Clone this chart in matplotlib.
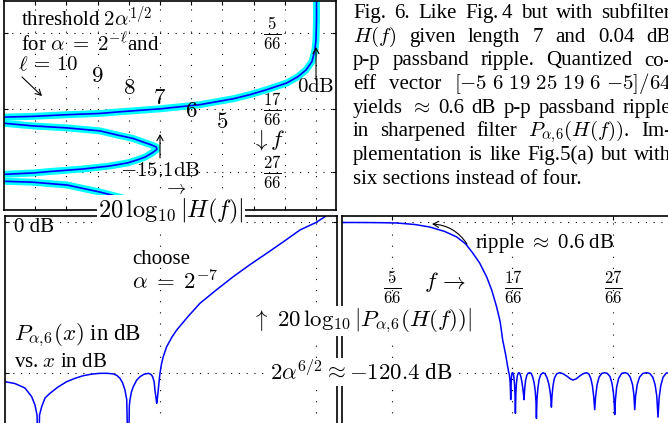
"""Fig. 6 recreation: subfilter H(f), sharpening polynomial P and sharpened response."""

import matplotlib
matplotlib.use("Agg")
import matplotlib.pyplot as plt

plt.rcParams["font.family"] = ["Liberation Serif", "DejaVu Serif"]
plt.rcParams["mathtext.fontset"] = "cm"

FIG_W, FIG_H, DPI = 668, 423, 100
TXT = 15
MATH = 16.5

# ---------------------------------------------------------------------------
# data
# top panel: 20 log10|H(f)| in dB (horizontal) against f (vertical, downward)
H1_DB = [0.05, 0.05, 0.0, -0.1, -0.39, -0.96, -1.74, -2.8, -4.73, -6.36,
         -8.0, -11.19, -15.04, -18.9, -20.83, -24.0, -27.3, -30.5]
H1_F = [0.0, 0.045, 0.093, 0.117, 0.145, 0.165, 0.181, 0.196, 0.212, 0.224,
        0.234, 0.248, 0.258, 0.265, 0.269, 0.272, 0.276, 0.278]
H2_DB = [-30.5, -27.3, -24.0, -20.83, -19.2, -17.65, -16.7, -15.9, -15.4,
         -15.35, -15.8, -16.5, -17.26, -18.2, -19.9, -22.47, -25.65, -27.3, -30.5]
H2_F = [0.2916, 0.2988, 0.3036, 0.3108, 0.3204, 0.3288, 0.3372, 0.344, 0.3495,
        0.355, 0.3635, 0.3735, 0.3803, 0.3875, 0.3947, 0.4019, 0.4079, 0.4115, 0.4151]
H3_DB = [-30.5, -27.3, -24.0, -20.83, -18.2, -17.3, -17.0]
H3_F = [0.431, 0.4335, 0.4403, 0.4571, 0.4739, 0.487, 0.5]

# bottom left: P_{alpha,6}(x) in dB vs x in dB
P_X = [-29.99, -29.03, -28.06, -27.42, -27.1, -26.9, -26.78, -26.66, -26.45,
       -26.13, -25.65, -24.88, -24.04, -23.2, -22.44, -21.6, -20.83, -20.1,
       -19.55, -19.2, -18.9, -18.65, -18.42, -18.25, -18.1, -18.0, -17.94,
       -17.8, -17.62, -17.3, -16.97, -16.6, -16.17, -15.9, -15.75, -15.6,
       -15.53, -15.42, -15.36, -15.28, -15.21, -15.1, -15.04, -14.9, -14.73,
       -14.4, -13.9, -13.43, -12.3, -11.19, -9.6, -7.97, -6.4, -4.75, -3.1,
       -1.54, 0.0, 0.87]
P_DB = [-127.6, -129.1, -132.7, -139.6, -146.3, -154.3, -200.0, -154.3, -147.6,
        -140.7, -136.9, -131.9, -127.6, -124.8, -122.8, -121.5, -120.9, -120.9,
        -121.4, -122.6, -124.9, -128.5, -134.3, -142.0, -200.0, -147.1, -142.3,
        -136.0, -131.6, -126.5, -123.6, -121.7, -120.9, -121.8, -123.6, -128.0,
        -134.3, -141.0, -144.9, -140.0, -134.3, -125.0, -120.9, -113.5, -107.6,
        -99.6, -92.0, -86.2, -75.0, -64.8, -54.0, -43.4, -34.0, -24.7, -15.2,
        -6.0, 0.0, 4.65]

# bottom right: 20 log10|P_{alpha,6}(H(f))| vs f
Q_F = [0.0, 0.02, 0.04, 0.06, 0.0833, 0.1104, 0.133, 0.1557, 0.1738, 0.1873,
       0.1979, 0.2084, 0.219, 0.2265, 0.234, 0.2394, 0.2431, 0.2477, 0.2507,
       0.2520, 0.2530, 0.2542, 0.2548, 0.2552,
       0.2557, 0.2563, 0.2570, 0.2580, 0.2590, 0.2600, 0.2610, 0.2617, 0.2623,
       0.2630, 0.2640, 0.2652, 0.2665, 0.2677, 0.2690, 0.2705, 0.2720, 0.2735,
       0.2746, 0.2753,
       0.2762, 0.2775, 0.2795, 0.2815, 0.2839, 0.2862, 0.2885, 0.2905, 0.2922,
       0.2933, 0.2940,
       0.2948, 0.2962, 0.2980, 0.3005, 0.3039, 0.3070, 0.3100, 0.3125, 0.3145,
       0.3158, 0.3166,
       0.3175, 0.3190, 0.3210, 0.3245, 0.3291, 0.3340, 0.3400, 0.3450, 0.3492,
       0.3540, 0.3590, 0.3640, 0.3694, 0.3730, 0.3760, 0.3785, 0.3805, 0.3819,
       0.3832, 0.3855, 0.3885, 0.3925, 0.3970, 0.4010, 0.4050, 0.4080, 0.4100,
       0.4112, 0.4121,
       0.4130, 0.4150, 0.4180, 0.4225, 0.4272, 0.4315, 0.4355, 0.4390, 0.4410,
       0.4423,
       0.4436, 0.4460, 0.4495, 0.4545, 0.4599, 0.4650, 0.4695, 0.4730, 0.4755,
       0.4774,
       0.4790, 0.4815, 0.4850, 0.4900, 0.5]
Q_DB = [0.0, 0.0, -0.05, -0.15, -0.4, -1.6, -3.6, -7.2, -11.6, -17.2,
        -24.4, -32.5, -43.7, -54.1, -67.7, -79.8, -94.2, -106.2, -115.8,
        -119.5, -121.5, -127.0, -134.0, -142.0,
        -131.0, -124.0, -121.0, -120.4, -121.0, -124.0, -130.0, -138.0, -153.0,
        -137.0, -128.0, -123.0, -120.8, -120.4, -121.0, -123.5, -127.5, -133.0,
        -138.0, -142.0,
        -134.0, -127.0, -122.5, -120.8, -120.4, -121.0, -124.0, -128.5, -135.0,
        -143.0, -157.0,
        -142.0, -133.0, -126.0, -122.0, -120.4, -121.2, -124.5, -129.0, -135.0,
        -141.0, -148.0,
        -139.0, -131.0, -125.0, -121.3, -120.4, -121.2, -123.2, -125.3, -126.3,
        -125.3, -123.2, -121.3, -120.4, -121.3, -125.0, -131.0, -140.0, -150.0,
        -140.0, -130.0, -124.0, -121.0, -120.4, -121.0, -123.5, -129.0, -136.0,
        -143.0, -154.0,
        -143.0, -132.0, -125.0, -121.0, -120.4, -121.0, -124.0, -130.0, -138.0,
        -150.0,
        -139.0, -130.0, -124.0, -121.0, -120.4, -121.0, -124.0, -130.0, -139.0,
        -156.0,
        -141.0, -131.0, -124.0, -120.6, -121.0]

# grid/tick positions
THRESH_DB = [-27.09, -24.08, -21.07, -18.06, -15.05, -12.04, -9.03, -6.02, -3.01, 0.0]
F_MARKS = [5 / 66, 17 / 66, 27 / 66]
P_XMARKS = [-15.05, 0.0]
DB_MARKS = [-120.4, 0.0]
THRESH_LABELS = ["9", "8", "7", "6", "5"]
FRAC_LABELS = [r"$\frac{5}{66}$", r"$\frac{17}{66}$", r"$\frac{27}{66}$"]

CAPTION = [
    ["Fig.", "6.", "Like", r"Fig.$\,$4", "but", "with", "subfilter"],
    [r"$H(f)$", "given", "length", "7", "and", "0.04", "dB"],
    ["p-p", "passband", "ripple.", "Quantized", "co-"],
    ["eff", "vector", r"$[{-}5\ 6\ 19\ 25\ 19\ 6\ {-}5]/64$"],
    ["yields", r"$\approx$", "0.6", "dB", "p-p", "passband", "ripple"],
    ["in", "sharpened", "filter", r"$P_{\alpha,\!6}(H(f))$.", "Im-"],
    ["plementation", "is", "like", "Fig.5(a)", "but", "with"],
]
CAPTION_LAST = "six sections instead of four."


def frac(x, y):
    """Pixel position (from the top left) to figure fraction."""
    return x / FIG_W, 1 - y / FIG_H


def rect(left, top, right, bottom):
    return [left / FIG_W, 1 - bottom / FIG_H, (right - left) / FIG_W, (bottom - top) / FIG_H]


def style_axes(ax, xmarks, ymarks):
    ax.set_xticks(xmarks)
    ax.set_yticks(ymarks)
    ax.set_xticklabels([])
    ax.set_yticklabels([])
    ax.tick_params(direction="in", length=3, width=0.8, top=True, right=True)
    ax.xaxis.grid(True, color="k", linestyle=(0, (1, 9)), linewidth=0.8)
    ax.yaxis.grid(True, color="k", linestyle=(0, (1, 6)), linewidth=0.8)
    for sp in ax.spines.values():
        sp.set_linewidth(1.2)


def text(x, y, s, **kw):
    kw.setdefault("fontsize", TXT)
    kw.setdefault("va", "center")
    return fig.text(*frac(x, y), s, **kw)


def arrow(x0, y0, x1, y1, rad=0.0):
    fig.add_artist(matplotlib.patches.FancyArrowPatch(
        frac(x0, y0), frac(x1, y1), transform=fig.transFigure,
        arrowstyle="->,head_length=4,head_width=2.2", lw=0.8, color="k",
        connectionstyle=f"arc3,rad={rad}", shrinkA=0, shrinkB=0))


WHITE = dict(facecolor="white", edgecolor="none", pad=0.8)

fig = plt.figure(figsize=(FIG_W / DPI, FIG_H / DPI), dpi=DPI)

# top left: subfilter response, transposed
ax_h = fig.add_axes(rect(4, 1, 336, 210))
ax_h.set_xlim(-30.09, 1.93)
ax_h.set_ylim(0.5, 0.0)
style_axes(ax_h, THRESH_DB, F_MARKS)
for xs, ys in [(H1_DB, H1_F), (H2_DB, H2_F), (H3_DB, H3_F)]:
    ax_h.plot(xs, ys, color="#00ffff", lw=5, solid_capstyle="butt")
    ax_h.plot(xs, ys, color="#0000ff", lw=1.2)

# bottom left: sharpening polynomial
ax_p = fig.add_axes(rect(5, 216, 337, 440))
ax_p.set_xlim(-29.99, 2.03)
ax_p.set_ylim(-174.35, 5.21)
style_axes(ax_p, P_XMARKS, DB_MARKS)
ax_p.plot(P_X, P_DB, color="#0000ff", lw=1.1)

# bottom right: sharpened filter
ax_q = fig.add_axes(rect(341.5, 216, 673, 440))
ax_q.set_xlim(0.0, 0.5)
ax_q.set_ylim(-174.35, 5.21)
style_axes(ax_q, F_MARKS, DB_MARKS)
ax_q.plot(Q_F, Q_DB, color="#0000ff", lw=1.1)

# --- annotations, top left
text(21, 19, r"threshold $2\alpha^{1/2}$")
text(21, 44, r"for $\alpha\;=\;2^{-\ell}$and")
text(18, 66, r"$\ell\,=\,10$")
arrow(22, 77, 42, 96)
for lab, x, y in zip(THRESH_LABELS, [97, 129, 160, 191, 222], [77, 89, 99, 111, 123]):
    text(x, y, f"${lab}$", ha="center", fontsize=MATH)
for lab, y in zip(FRAC_LABELS, [33, 109, 172]):
    text(272, y, lab, ha="center", fontsize=17)
arrow(316, 80, 316, 47)
text(316, 87, r"$0\mathrm{dB}$", ha="center")
text(268, 140, r"$\downarrow f$", ha="center", fontsize=MATH)
arrow(160, 158, 160, 134)
text(160, 171, r"$-15.1\mathrm{dB}$", ha="center")
text(175, 189, r"$\rightarrow$", ha="center", fontsize=14)
text(171, 211, r"$20\,\log_{10}|H(f)|$", ha="center", zorder=10, fontsize=17.5, bbox=WHITE)

# --- annotations, bottom left
text(14, 227, "0 dB")
text(132, 260, "choose")
text(132, 282, r"$\alpha\;=\;2^{-7}$", fontsize=MATH)
text(14, 335, r"$P_{\alpha,\!6}(x)$ in dB", fontsize=MATH)
text(14, 362, r"vs. $x$ in dB")
text(361, 321, r"$\uparrow\ 20\,\log_{10}|P_{\alpha,\!6}(H(f))|$", ha="center", zorder=10,
     fontsize=MATH, bbox=WHITE)
text(361, 372, r"$2\alpha^{6/2}\approx{-}120.4$ dB", ha="center", zorder=10,
     fontsize=MATH, bbox=WHITE)

# --- annotations, bottom right
text(475, 243, r"ripple $\approx$ 0.6 dB")
arrow(467, 244, 432, 224, rad=0.25)
for lab, x in zip(FRAC_LABELS, [392, 513, 613]):
    text(x, 287, lab, ha="center", fontsize=17)
text(445, 282, r"$f\,\rightarrow$", ha="center", fontsize=MATH)

# --- caption, justified between x0 and x1
renderer = fig.canvas.get_renderer()
x0, x1, base0, lead = 353, 671, 18.3, 23.6
for i, words in enumerate(CAPTION):
    y = base0 + i * lead
    items = [text(0, y, w, va="baseline") for w in words]
    widths = [t.get_window_extent(renderer).width for t in items]
    gap = (x1 - x0 - sum(widths)) / (len(words) - 1)
    x = x0
    for t, w in zip(items, widths):
        t.set_x(x / FIG_W)
        x += w + gap
text(x0, base0 + len(CAPTION) * lead, CAPTION_LAST, va="baseline")

fig.savefig("out.png", dpi=DPI, facecolor="white")
